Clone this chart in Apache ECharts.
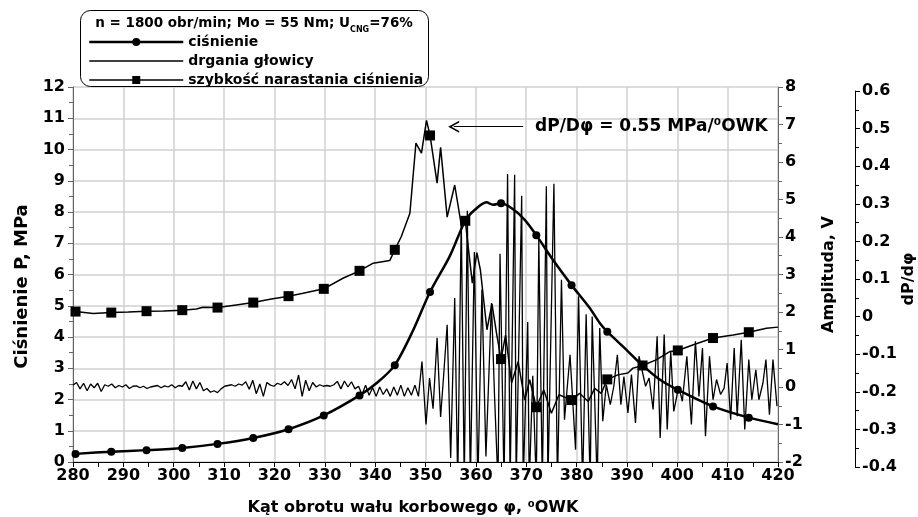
<!DOCTYPE html>
<html>
<head>
<meta charset="utf-8">
<script src="https://cdn.jsdelivr.net/npm/echarts@6/dist/echarts.min.js"></script>
<style>
  html, body { margin: 0; padding: 0; background: #fff; }
  #chart { width: 918px; height: 517px; }
</style>
</head>
<body>
<div id="chart"></div>
<script>
const FONT = 'DejaVu Sans';

// angles (deg OWK) where the markers sit on both marked curves
const markerAngles = [280.5, 287.6, 294.6, 301.7, 308.7, 315.8, 322.8, 329.8, 336.9, 343.9,
  350.9, 357.9, 365.0, 372.0, 379.0, 386.1, 393.1, 400.1, 407.1, 414.2];

// ciśnienie, MPa (left axis)
const pressureAngles = [280.5, 287.6, 294.6, 301.7, 308.7, 315.8, 322.8, 329.8, 336.9, 340.5,
  343.9, 347.5, 350.9, 354.8, 357.9, 359.8, 362.1, 363.4, 365.0, 367.4, 369.7, 372.0, 375.3,
  379.0, 382.5, 384.6, 386.1, 389.9, 393.1, 396.5, 400.1, 407.1, 414.2, 420.0];
const pressureValues = [0.26, 0.33, 0.38, 0.45, 0.58, 0.77, 1.05, 1.49, 2.13, 2.55,
  3.1, 4.2, 5.44, 6.58, 7.72, 8.07, 8.31, 8.23, 8.28, 8.09, 7.75, 7.26, 6.47,
  5.66, 4.95, 4.45, 4.17, 3.59, 3.09, 2.64, 2.31, 1.78, 1.42, 1.21];

// szybkość narastania ciśnienia, dP/dφ (third axis)
const dpAngles = [280.0, 280.5, 284.0, 287.6, 291.0, 294.6, 298.0, 301.7, 304.5, 305.8,
  308.7, 312.4, 315.8, 319.1, 322.8, 325.7, 329.8, 333.6, 336.9, 339.6, 342.9, 343.9,
  345.2, 346.9, 348.1, 349.2, 350.2, 350.9, 352.3, 353.0, 354.3, 355.8, 357.1, 357.9,
  359.3, 360.2, 360.9, 362.2, 363.2, 364.1, 365.0, 365.9, 367.1, 368.4, 369.7, 370.7,
  372.0, 373.5, 375.0, 376.5, 379.0, 380.6, 382.3, 383.6, 384.9, 386.1, 388.2, 390.2,
  391.2, 393.1, 395.8, 398.5, 400.1, 403.2, 407.1, 411.1, 414.2, 417.7, 420.0];
const dpValues = [0.012, 0.0134, 0.008, 0.0107, 0.012, 0.0144, 0.015, 0.0171, 0.02, 0.025,
  0.024, 0.031, 0.0373, 0.046, 0.0544, 0.062, 0.0738, 0.102, 0.1217, 0.142, 0.149, 0.1776,
  0.213, 0.275, 0.4616, 0.435, 0.5217, 0.4818, 0.355, 0.45, 0.2646, 0.35, 0.244, 0.2548,
  0.089, 0.17, 0.124, -0.035, 0.034, -0.044, -0.113, -0.049, -0.176, -0.12, -0.222, -0.168,
  -0.241, -0.195, -0.257, -0.208, -0.222, -0.204, -0.226, -0.191, -0.204, -0.167, -0.155, -0.15,
  -0.137, -0.13, -0.115, -0.093, -0.09, -0.075, -0.057, -0.049, -0.0415, -0.031, -0.028];

// drgania głowicy, V (right axis): quiet part sampled every 0.7 deg from 280
const vibStart = 280;
const vibStep = 0.7;
const vibQuiet = [
  0.05, 0.12, -0.05, 0.1, -0.1, 0.08, -0.02, 0.1, -0.12, 0.06,
  0.02, 0.08, -0.02, 0.04, 0.0, 0.06, -0.04, 0.02, 0.03, -0.02,
  0.02, -0.04, 0.0, 0.02, 0.04, -0.02, 0.03, 0.0, 0.06, -0.02,
  0.04, 0.02, 0.14, -0.08, 0.16, -0.05, 0.12, -0.1, -0.04, -0.14,
  -0.1, -0.15, -0.05, 0.02, 0.04, 0.06, 0.02, 0.08, 0.05, 0.14,
  -0.06, 0.18, -0.18, 0.08, -0.25, 0.12, 0.05, 0.02, 0.1, 0.06,
  0.14, 0.04, 0.2, -0.05, 0.32, -0.25, 0.18, -0.1, 0.12, 0.0,
  0.06, 0.02, 0.04, 0.02, 0.06, 0.15, -0.05, 0.16, 0.0, 0.14,
  -0.05, 0.02, -0.2, 0.05, -0.22, -0.02, -0.25, 0.0, -0.2, -0.05,
  -0.25, 0.0, -0.22, 0.05, -0.25, -0.02, -0.22, 0.05, -0.25];
// after combustion: read point by point
const vibBurstAngles = [349.3, 350.1, 350.8, 351.5, 352.3, 353.0, 353.6, 354.3, 355.0, 355.8,
  356.4, 357.1, 357.7, 358.3, 358.9, 359.7, 360.4, 361.2, 362.0, 363.1, 363.7, 364.4, 364.8,
  365.6, 366.3, 366.8, 367.7, 368.0, 369.1, 369.4, 370.3, 370.6, 371.3, 372.0, 372.5, 373.2,
  374.0, 374.3, 375.5, 376.2, 377.0, 377.6, 378.7, 379.8, 380.4, 381.2, 381.9, 382.7, 383.1,
  384.1, 384.6, 385.2, 385.9, 386.7, 387.4, 388.1, 388.8, 389.4, 390.2, 390.9, 391.7, 392.4,
  393.7, 394.4, 395.2, 396.0, 396.6, 397.4, 398.0, 398.7, 399.3, 400.3, 401.0, 401.9, 402.8,
  403.6, 404.3, 405.0, 405.6, 406.4, 407.1, 407.8, 408.6, 409.3, 409.9, 410.6, 411.3, 411.9,
  412.7, 413.4, 414.2, 414.8, 415.6, 416.2, 417.0, 417.6, 418.3, 419.0, 419.8];
const vibBurstValues = [0.68, -1.0, 0.24, -0.58, 1.31, -0.8, 0.3, 1.66, -1.89, 2.37,
  -2.6, 4.5, -2.6, 4.7, -2.6, 3.6, -2.6, 2.6, -1.85, 2.24, -0.2, -2.6, 3.55,
  -2.6, 5.68, -2.6, 5.66, -2.6, 5.1, -2.6, 1.73, -2.6, 0.3, -2.6, 3.92, -2.6,
  5.35, -2.6, 5.42, -2.6, 2.86, -0.87, 0.86, -1.67, 2.42, -2.6, 1.94, -2.6, 1.88,
  -2.6, 1.57, -0.91, 0.06, -0.47, 0.02, 0.86, -0.47, 0.28, -0.69, 0.33, -0.96, 0.82,
  0.02, 0.24, -0.6, 1.35, -1.36, 1.4, -1.13, 0.95, -0.65, 0.02, -0.38, 0.82, -1.0,
  1.22, -0.25, 1.04, -1.31, 0.82, -0.34, 0.2, -0.2, -0.03, 0.64, -0.87, 1.04, -0.78,
  1.26, -1.13, 0.73, -0.34, 0.46, -0.34, 0.1, 0.73, -0.74, 0.73, -0.51];

const seriesNames = ['ciśnienie', 'drgania głowicy', 'szybkość narastania ciśnienia'];

function marked(angles, values) {
  return angles.map((a, i) => markerAngles.indexOf(a) >= 0
    ? [a, values[i]]
    : { value: [a, values[i]], symbol: 'none' });
}
const vibData = vibQuiet.map((v, i) => [+(vibStart + i * vibStep).toFixed(1), v])
  .concat(vibBurstAngles.map((a, i) => [a, vibBurstValues[i]]));

const labelStyle = { fontFamily: FONT, fontSize: 16, fontWeight: 'bold', color: '#000' };
const nameStyle = { fontFamily: FONT, fontSize: 16, fontWeight: 'bold', color: '#000' };

const chart = echarts.init(document.getElementById('chart'));
chart.setOption({
  animation: false,
  textStyle: { fontFamily: FONT },
  grid: [
    { left: 73, right: 140, top: 87, bottom: 55, outerBoundsMode: 'none' },
    { left: 73, right: 140, top: 91, bottom: 50, outerBoundsMode: 'none' }
  ],
  legend: {
    data: [
      { name: seriesNames[0], lineStyle: { width: 2.5 } },
      { name: seriesNames[1], lineStyle: { width: 1.3, color: '#000' }, itemStyle: { opacity: 0 } },
      { name: seriesNames[2], lineStyle: { width: 1.5 } }
    ],
    orient: 'vertical',
    left: 88,
    top: 35,
    padding: 0,
    itemWidth: 94,
    itemHeight: 10,
    itemGap: 5,
    selectedMode: false,
    z: 10,
    textStyle: { fontFamily: FONT, fontSize: 14, fontWeight: 'bold', color: '#000', lineHeight: 14 }
  },
  xAxis: [
    {
      type: 'value', gridIndex: 0, min: 280, max: 420, interval: 10,
      name: 'Kąt obrotu wału korbowego φ, ⁰OWK',
      nameLocation: 'middle', nameGap: 38,
      nameTextStyle: Object.assign({ padding: [0, 25, 0, 0] }, nameStyle),
      axisLine: { onZero: false, lineStyle: { color: '#000', width: 1 } },
      axisTick: { length: 5, lineStyle: { color: '#000' } },
      minorTick: { show: true, splitNumber: 2, length: 5, lineStyle: { color: '#000' } },
      axisLabel: Object.assign({ margin: 6 }, labelStyle),
      splitLine: { show: true, lineStyle: { color: '#d0d0d0', width: 1.5 } }
    },
    { type: 'value', gridIndex: 1, min: 280, max: 420, show: false }
  ],
  yAxis: [
    {
      type: 'value', gridIndex: 0, position: 'left', min: 0, max: 12, interval: 1,
      name: 'Ciśnienie P, MPa', nameLocation: 'middle', nameRotate: 90, nameGap: 42,
      nameTextStyle: Object.assign({}, nameStyle, { fontSize: 18, padding: [0, 24, 0, 0] }),
      axisLine: { show: true, lineStyle: { color: '#666', width: 1 } },
      axisTick: { show: true, length: 5, lineStyle: { color: '#666' } },
      minorTick: { show: true, splitNumber: 2, length: 4, lineStyle: { color: '#666' } },
      axisLabel: Object.assign({ margin: 8 }, labelStyle),
      splitLine: { show: true, lineStyle: { color: '#d0d0d0', width: 1.5 } }
    },
    {
      type: 'value', gridIndex: 0, position: 'right', min: -2, max: 8, interval: 1,
      name: 'Amplituda, V', nameLocation: 'middle', nameRotate: 90, nameGap: 43,
      nameTextStyle: nameStyle,
      axisLine: { show: true, lineStyle: { color: '#666', width: 1 } },
      axisTick: { show: true, length: 5, lineStyle: { color: '#666' } },
      minorTick: { show: true, splitNumber: 2, length: 4, lineStyle: { color: '#666' } },
      axisLabel: Object.assign({ margin: 7 }, labelStyle),
      splitLine: { show: false }
    },
    {
      type: 'value', gridIndex: 1, position: 'right', offset: 77, min: -0.4, max: 0.6, interval: 0.1,
      name: 'dP/dφ', nameLocation: 'middle', nameRotate: 90, nameGap: 46,
      nameMoveOverlap: false,
      nameTextStyle: nameStyle,
      axisLine: { show: true, lineStyle: { color: '#000', width: 1 } },
      axisTick: { show: true, length: 5, lineStyle: { color: '#000' } },
      minorTick: { show: true, splitNumber: 2, length: 4, lineStyle: { color: '#000' } },
      axisLabel: Object.assign({
        margin: 7,
        formatter: v => Math.abs(v) < 1e-9 ? '0' : v.toFixed(1)
      }, labelStyle),
      splitLine: { show: false }
    }
  ],
  series: [
    {
      name: seriesNames[0], type: 'line', xAxisIndex: 0, yAxisIndex: 0,
      data: marked(pressureAngles, pressureValues),
      smooth: 0.3, symbol: 'circle', symbolSize: 8, showAllSymbol: true,
      lineStyle: { color: '#000', width: 2.5 },
      itemStyle: { color: '#000' },
      z: 4
    },
    {
      name: seriesNames[1], type: 'line', xAxisIndex: 0, yAxisIndex: 1,
      data: vibData, symbol: 'none',
      lineStyle: { color: '#000', width: 1.3 },
      itemStyle: { color: '#000' },
      z: 2
    },
    {
      name: seriesNames[2], type: 'line', xAxisIndex: 1, yAxisIndex: 2,
      data: marked(dpAngles, dpValues),
      symbol: 'rect', symbolSize: 10, showAllSymbol: true,
      lineStyle: { color: '#000', width: 1.5 },
      itemStyle: { color: '#000' },
      z: 3,
      markLine: {
        silent: true,
        symbol: ['none', 'path://M5,0 L10,11 L8.5,11 L5,3.3 L1.5,11 L0,11 Z'],
        symbolSize: [12, 11],
        label: { show: false },
        lineStyle: { color: '#000', width: 1, type: 'solid' },
        itemStyle: { color: '#000' },
        data: [[{ coord: [369.4, 0.505] }, { coord: [355.6, 0.505] }]]
      }
    }
  ],
  graphic: [
    {
      type: 'rect', z: 8,
      shape: { x: 80.5, y: 10.5, width: 348, height: 76, r: 10 },
      style: { fill: '#fff', stroke: '#000', lineWidth: 1 }
    },
    {
      type: 'text', z: 9, x: 254, y: 25,
      style: {
        text: '{a|n = 1800 obr/min; Mo = 55 Nm; U}{s|CNG}{a|=76%}',
        align: 'center', verticalAlign: 'middle',
        rich: {
          a: { fontFamily: FONT, fontSize: 13.5, fontWeight: 'bold', fill: '#000', lineHeight: 18, verticalAlign: 'top' },
          s: { fontFamily: FONT, fontSize: 8, fontWeight: 'bold', fill: '#000', lineHeight: 8, verticalAlign: 'bottom' }
        }
      }
    },
    {
      type: 'text', z: 9, x: 535, y: 127,
      style: {
        text: 'dP/Dφ = 0.55 MPa/⁰OWK',
        fontFamily: FONT, fontSize: 17, fontWeight: 'bold', fill: '#000',
        align: 'left', verticalAlign: 'middle'
      }
    }
  ]
});
</script>
</body>
</html>
